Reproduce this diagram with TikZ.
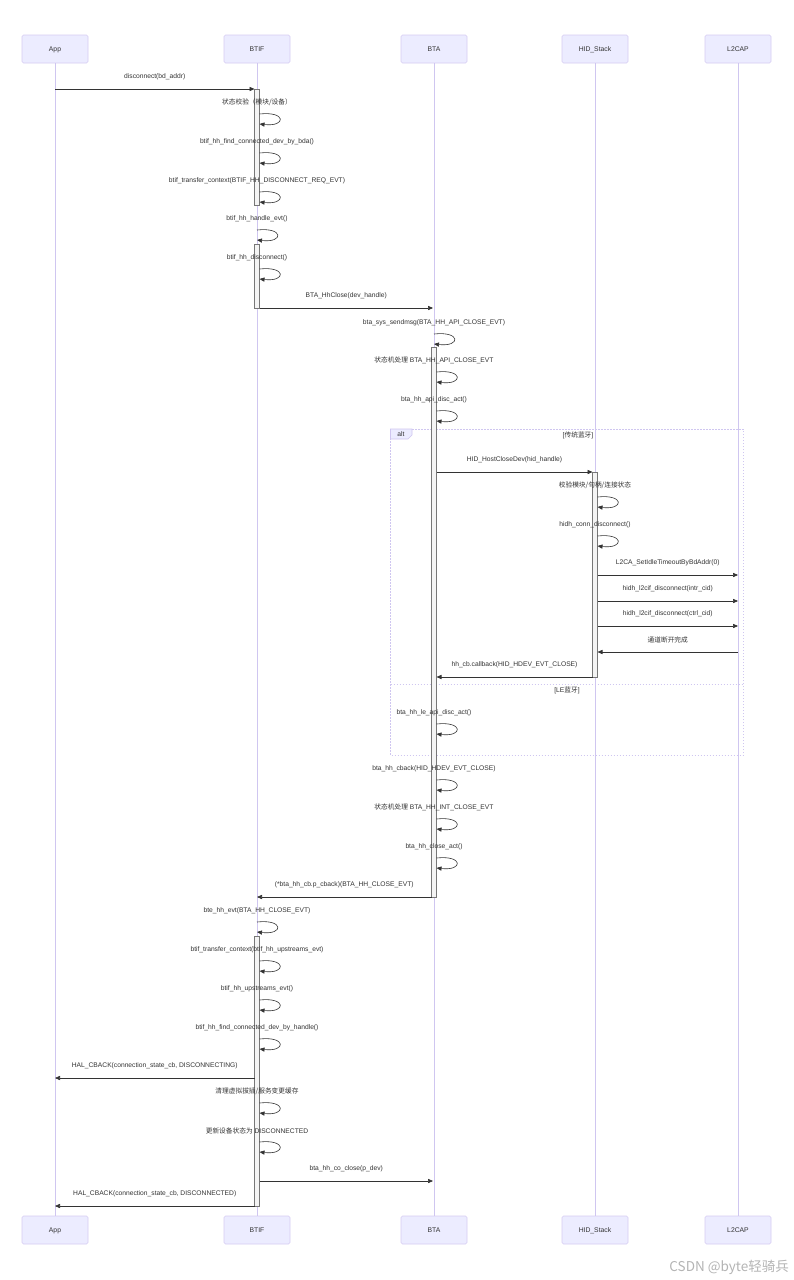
\documentclass[tikz,border=0pt]{standalone}
\usepackage{fontspec}
\setmainfont{Liberation Sans}
\newfontfamily\cjk{Noto Sans CJK SC}
\usetikzlibrary{arrows.meta,calc}
\definecolor{actfill}{HTML}{ECECFF}
\definecolor{actborder}{HTML}{D6CCF2}
\definecolor{lifeclr}{HTML}{CFC6F0}
\definecolor{txtclr}{HTML}{333333}
\definecolor{barclr}{HTML}{777777}
\definecolor{barfill}{HTML}{F4F4F4}
\definecolor{wmclr}{HTML}{B4B4B4}
\tikzset{
  actor/.style={draw=actborder,fill=actfill,line width=0.6pt,minimum width=66pt,minimum height=28pt,rounded corners=1.5pt,inner sep=0pt,text=txtclr,text height=4.8pt,text depth=0pt,font=\fontsize{6.8}{8}\selectfont},
  lifeline/.style={draw=lifeclr,line width=0.7pt},
  msg/.style={draw=txtclr,line width=0.6pt,-{Triangle[length=5pt,width=4.2pt]}},
  lbl/.style={text=txtclr,font=\fontsize{6.7}{8}\selectfont,inner sep=0pt},
  actbar/.style={draw=barclr,fill=barfill,line width=0.5pt},
  altbox/.style={draw=lifeclr,dashed,dash pattern=on 1.5pt off 1.5pt,line width=0.6pt},
}
\newcommand{\Msg}[6]{\draw[msg] ($(#1|-0,#5)+(#2,0)$) -- node[lbl,yshift=12pt]{#6} ($(#3|-0,#5)+(#4,0)$);}
\newcommand{\Self}[4]{%
  \node[lbl] at ($(#1|-0,#3)+(0,-11.5)$) {#4};
  \draw[msg] ($(#1|-0,#3)+(#2,0)$) .. controls +(27,-3) and +(27,3) .. ($(#1|-0,#3)+(#2,10)$);}
\newcommand{\Bar}[3]{\draw[actbar] ($(#1|-0,#2)+(-2.5,0)$) rectangle ($(#1|-0,#3)+(2.5,0)$);}
\begin{document}
\begin{tikzpicture}[x=1pt,y=-1pt]
\useasboundingbox (0,0) rectangle (794,1280);
\fill[white] (0,0) rectangle (794,1280);
% participants
\node[actor] (appT) at (55,49) {App};
\node[actor] (btifT) at (257,49) {BTIF};
\node[actor] (btaT) at (434,49) {BTA};
\node[actor] (hidT) at (595,49) {HID\_Stack};
\node[actor] (l2T) at (738,49) {L2CAP};
\node[actor] (appB) at (55,1230) {App};
\node[actor] (btifB) at (257,1230) {BTIF};
\node[actor] (btaB) at (434,1230) {BTA};
\node[actor] (hidB) at (595,1230) {HID\_Stack};
\node[actor] (l2B) at (738,1230) {L2CAP};
\draw[lifeline] (appT.south) -- (appB.north);
\draw[lifeline] (btifT.south) -- (btifB.north);
\draw[lifeline] (btaT.south) -- (btaB.north);
\draw[lifeline] (hidT.south) -- (hidB.north);
\draw[lifeline] (l2T.south) -- (l2B.north);
% alt frame
\draw[altbox] (390.5,429) rectangle (743.5,755);
\draw[altbox] (390.5,684) -- (743.5,684);
\draw[draw=lifeclr,fill=actfill,line width=0.6pt] (390.5,429) -- (412,429) -- (412,435) -- (408,439) -- (390.5,439) -- cycle;
\node[lbl] (altlbl) at (401,434) {alt};
\node[lbl] (sec1) at (578,435) {[{\cjk 传统蓝牙}]};
\node[lbl] (sec2) at (567,690) {[LE{\cjk 蓝牙}]};
% activation bars
\Bar{btifT}{89}{205}
\Bar{btifT}{244}{308}
\Bar{btaT}{347}{897}
\Bar{hidT}{472}{677}
\Bar{btifT}{936}{1206}
% messages
\Msg{appT}{0}{btifT}{-2.5}{89}{disconnect(bd\_addr)}
\Self{btifT}{2.5}{114}{{\cjk 状态校验（模块/设备）}}
\Self{btifT}{2.5}{153}{btif\_hh\_find\_connected\_dev\_by\_bda()}
\Self{btifT}{2.5}{192}{btif\_transfer\_context(BTIF\_HH\_DISCONNECT\_REQ\_EVT)}
\Self{btifT}{0}{230}{btif\_hh\_handle\_evt()}
\Self{btifT}{2.5}{269}{btif\_hh\_disconnect()}
\Msg{btifT}{2.5}{btaT}{-1}{308}{BTA\_HhClose(dev\_handle)}
\Self{btaT}{0}{334}{bta\_sys\_sendmsg(BTA\_HH\_API\_CLOSE\_EVT)}
\Self{btaT}{2.5}{372}{{\cjk 状态机处理} BTA\_HH\_API\_CLOSE\_EVT}
\Self{btaT}{2.5}{411}{bta\_hh\_api\_disc\_act()}
\Msg{btaT}{2.5}{hidT}{-2.5}{472}{HID\_HostCloseDev(hid\_handle)}
\Self{hidT}{2.5}{497}{{\cjk 校验模块/句柄/连接状态}}
\Self{hidT}{2.5}{536}{hidh\_conn\_disconnect()}
\Msg{hidT}{2.5}{l2T}{0}{575}{L2CA\_SetIdleTimeoutByBdAddr(0)}
\Msg{hidT}{2.5}{l2T}{0}{601}{hidh\_l2cif\_disconnect(intr\_cid)}
\Msg{hidT}{2.5}{l2T}{0}{626}{hidh\_l2cif\_disconnect(ctrl\_cid)}
\Msg{l2T}{0}{hidT}{2.5}{652}{{\cjk 通道断开完成}}
\Msg{hidT}{-2.5}{btaT}{2.5}{677}{hh\_cb.callback(HID\_HDEV\_EVT\_CLOSE)}
\Self{btaT}{2.5}{724}{bta\_hh\_le\_api\_disc\_act()}
\Self{btaT}{2.5}{780}{bta\_hh\_cback(HID\_HDEV\_EVT\_CLOSE)}
\Self{btaT}{2.5}{819}{{\cjk 状态机处理} BTA\_HH\_INT\_CLOSE\_EVT}
\Self{btaT}{2.5}{858}{bta\_hh\_close\_act()}
\Msg{btaT}{-2.5}{btifT}{0}{897}{(*bta\_hh\_cb.p\_cback)(BTA\_HH\_CLOSE\_EVT)}
\Self{btifT}{0}{922}{bte\_hh\_evt(BTA\_HH\_CLOSE\_EVT)}
\Self{btifT}{2.5}{961}{btif\_transfer\_context(btif\_hh\_upstreams\_evt)}
\Self{btifT}{2.5}{1000}{btif\_hh\_upstreams\_evt()}
\Self{btifT}{2.5}{1039}{btif\_hh\_find\_connected\_dev\_by\_handle()}
\Msg{btifT}{-2.5}{appT}{0}{1078}{HAL\_CBACK(connection\_state\_cb, DISCONNECTING)}
\Self{btifT}{2.5}{1103}{{\cjk 清理虚拟拔插/服务变更缓存}}
\Self{btifT}{2.5}{1142}{{\cjk 更新设备状态为} DISCONNECTED}
\Msg{btifT}{2.5}{btaT}{-1}{1181}{bta\_hh\_co\_close(p\_dev)}
\Msg{btifT}{-2.5}{appT}{0}{1206}{HAL\_CBACK(connection\_state\_cb, DISCONNECTED)}
% watermark
\node[text=wmclr,font=\cjk\fontsize{13.5}{15}\selectfont,inner sep=0pt,anchor=east] (wm) at (789,1267) {CSDN @byte轻骑兵};
\end{tikzpicture}
\end{document}
